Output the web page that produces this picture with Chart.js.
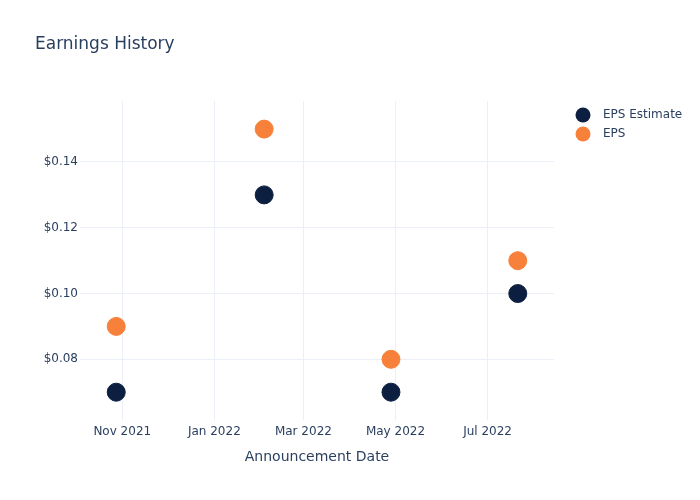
<!DOCTYPE html>
<html>
<head>
<meta charset="utf-8">
<script src="https://cdn.jsdelivr.net/npm/chart.js@4/dist/chart.umd.min.js"></script>
<style>
  html, body { margin: 0; padding: 0; background: #fff; }
  #wrap { width: 700px; height: 500px; }
</style>
</head>
<body>
<div id="wrap"><canvas id="grafico" width="700" height="500"></canvas></div>
<script>
// --- dados ---
const datasAnuncio = ['2021-10-28', '2022-02-03', '2022-04-28', '2022-07-21'];
const epsEstimado = [0.07, 0.13, 0.07, 0.10];
const epsReal = [0.09, 0.15, 0.08, 0.11];

const ticksX = ['2021-11-01', '2022-01-01', '2022-03-01', '2022-05-01', '2022-07-01'];
const rotulosX = ['Nov 2021', 'Jan 2022', 'Mar 2022', 'May 2022', 'Jul 2022'];
const ticksY = [0.08, 0.10, 0.12, 0.14];

const rotulosSerie = ['EPS Estimate', 'EPS'];
const coresSerie = ['#0c1f40', '#f7803a'];

const corTexto = '#2a3f5f';
const corGrid = '#ebf0f8';
const fonte = 'DejaVu Sans, Verdana, sans-serif';

const ms = d => new Date(d + 'T00:00:00Z').getTime();

function pontos(valores) {
    return datasAnuncio.map((d, i) => ({ x: ms(d), y: valores[i] }));
}

// título, legenda e título do eixo x
const textosExtras = {
    id: 'textosExtras',
    afterDraw(chart) {
        const ctx = chart.ctx;
        const area = chart.chartArea;
        ctx.save();
        ctx.fillStyle = corTexto;
        ctx.textBaseline = 'middle';

        ctx.font = '17px ' + fonte;
        ctx.textAlign = 'left';
        ctx.fillText('Earnings History', 35, 45);

        ctx.font = '14px ' + fonte;
        ctx.textAlign = 'center';
        ctx.fillText('Announcement Date', (area.left + area.right) / 2, 457);

        ctx.font = '12px ' + fonte;
        ctx.textAlign = 'left';
        rotulosSerie.forEach((r, i) => {
            const y = 115 + i * 19;
            ctx.beginPath();
            ctx.arc(583, y, 7.5, 0, Math.PI * 2);
            ctx.fillStyle = coresSerie[i];
            ctx.fill();
            ctx.fillStyle = corTexto;
            ctx.fillText(r, 603, y);
        });
        ctx.restore();
    }
};

new Chart(document.getElementById('grafico').getContext('2d'), {
    type: 'scatter',
    data: {
        datasets: [
            {
                label: rotulosSerie[0],
                data: pontos(epsEstimado),
                backgroundColor: coresSerie[0],
                borderColor: coresSerie[0],
                pointRadius: 9,
                borderWidth: 1,
                pointHoverRadius: 9
            },
            {
                label: rotulosSerie[1],
                data: pontos(epsReal),
                backgroundColor: coresSerie[1],
                borderColor: coresSerie[1],
                pointRadius: 9,
                borderWidth: 1,
                pointHoverRadius: 9
            }
        ]
    },
    options: {
        responsive: false,
        animation: false,
        layout: { padding: { top: 101, right: 146, bottom: 0, left: 0 } },
        plugins: {
            legend: { display: false },
            tooltip: { enabled: false }
        },
        scales: {
            x: {
                type: 'linear',
                min: ms('2021-10-04'),
                max: ms('2022-08-14'),
                border: { display: false },
                grid: { color: corGrid, drawTicks: false },
                afterBuildTicks: s => { s.ticks = ticksX.map(d => ({ value: ms(d) })); },
                afterFit: s => { s.height = 80; },
                ticks: {
                    padding: 5,
                    color: corTexto,
                    maxRotation: 0,
                    autoSkip: false,
                    font: { size: 12, family: fonte },
                    callback: (v) => {
                        const i = ticksX.findIndex(d => ms(d) === v);
                        return i >= 0 ? rotulosX[i] : '';
                    }
                }
            },
            y: {
                min: 0.06154,
                max: 0.15855,
                border: { display: false },
                grid: { color: corGrid, drawTicks: false },
                afterBuildTicks: s => { s.ticks = ticksY.map(v => ({ value: v })); },
                afterFit: s => { s.width = 80; },
                ticks: {
                    padding: 2,
                    color: corTexto,
                    font: { size: 12, family: fonte },
                    callback: v => '$' + Number(v).toFixed(2)
                }
            }
        }
    },
    plugins: [textosExtras]
});
</script>
</body>
</html>
